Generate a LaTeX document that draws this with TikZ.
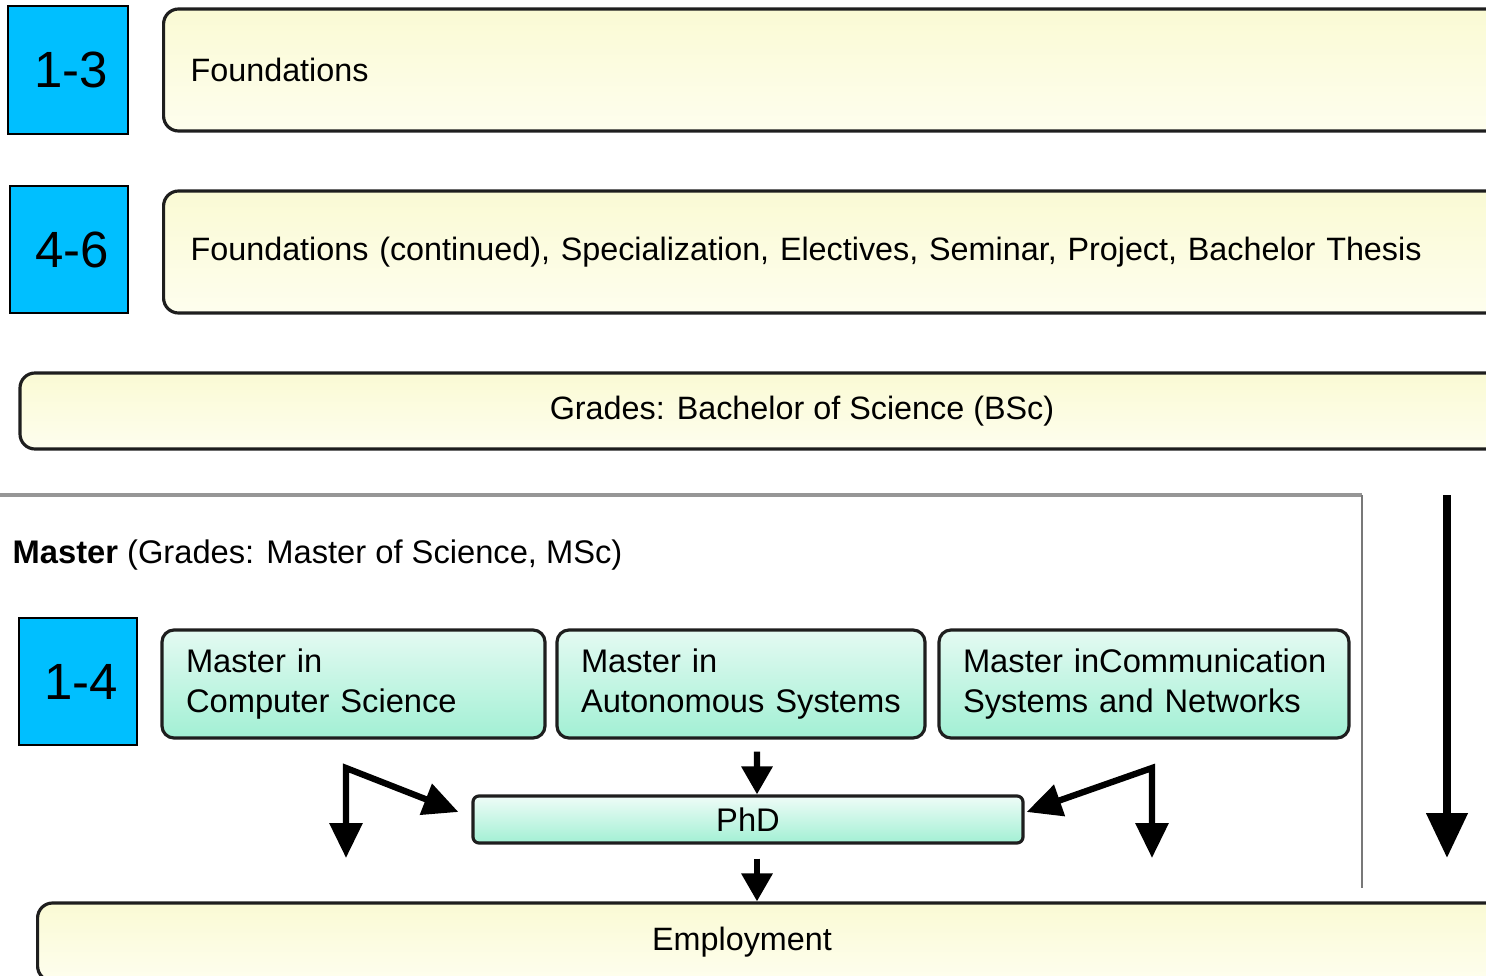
\documentclass[tikz,border=0pt]{standalone}
\usepackage{fontspec}
\setmainfont{Liberation Sans}
\usetikzlibrary{arrows.meta}

\definecolor{yearblue}{RGB}{0,191,255}
\definecolor{paleyellow}{RGB}{250,250,212}
\definecolor{creamwhite}{RGB}{254,254,238}
\definecolor{mintlight}{RGB}{228,250,242}
\definecolor{mintdark}{RGB}{162,240,212}
\definecolor{framegray}{RGB}{150,150,150}
\definecolor{edgeblack}{RGB}{30,30,30}

\begin{document}
\begin{tikzpicture}[
  yearbox/.style={draw=black, line width=0.7pt, fill=yearblue, inner sep=0pt,
    minimum width=1.18cm, minimum height=1.27cm, font=\fontsize{14.5}{16}\selectfont},
  phasebox/.style={draw=edgeblack, line width=0.9pt, rounded corners=1.5mm,
    top color=paleyellow, bottom color=creamwhite, inner sep=0pt,
    font=\fontsize{9.2}{11}\selectfont},
  masterbox/.style={draw=edgeblack, line width=0.9pt, rounded corners=1.2mm,
    top color=mintlight, bottom color=mintdark, minimum height=1.08cm,
    align=left, inner xsep=2.4mm, inner ysep=0pt, font=\fontsize{9.3}{11.6}\selectfont},
  flow/.style={line width=1.8pt, -{Triangle[width=3mm,length=2.8mm]}},
  twoway/.style={line width=1.8pt,
    {Triangle[width=3.2mm,length=3.5mm]}-{Triangle[width=3.2mm,length=3.5mm]}},
  bigflow/.style={line width=2.2pt, -{Triangle[width=4mm,length=4.5mm]}},
]
\path[use as bounding box, clip] (0,0) rectangle (14.86,-9.76);
% Bachelor years
\node[yearbox, minimum width=1.20cm, minimum height=1.28cm] (y13) at (0.68,-0.70) {\hspace{0.6mm}1-3};
\node[phasebox, anchor=west, minimum height=1.22cm, text width=13.14cm,
  align=left, inner xsep=2.7mm] (found) at (1.62,-0.70) {Foundations};
\node[yearbox] (y46) at (0.69,-2.495) {\hspace{0.6mm}4-6};
\node[phasebox, anchor=west, minimum height=1.22cm, text width=13.14cm,
  align=left, inner xsep=2.7mm] (spec) at (1.62,-2.52)
  {Foundations (continued), Specialization, Electives, Seminar, Project, Bachelor Thesis};
\node[phasebox, minimum width=15.64cm, minimum height=0.76cm] (bsc) at (8.02,-4.11)
  {Grades: Bachelor of Science (BSc)};
% Master frame
\draw[framegray, line width=0.9pt] (0,-4.95) -- (13.62,-4.95);
\draw[framegray!80!black, line width=0.5pt] (13.62,-4.95) -- (13.62,-8.88);
\node[anchor=west, inner sep=0pt, font=\fontsize{9.3}{11}\selectfont] (mastertitle)
  at (0.12,-5.55) {\textbf{Master} (Grades: Master of Science, MSc)};
\node[yearbox] (y14) at (0.78,-6.815) {\hspace{0.6mm}1-4};
\node[masterbox, text width=3.35cm] (mcs) at (3.535,-6.84) {Master in\\Computer Science};
\node[masterbox, text width=3.20cm] (mas) at (7.41,-6.84) {Master in\\Autonomous Systems};
\node[masterbox, text width=3.62cm] (mcsn) at (11.44,-6.84)
  {\mbox{Master inCommunication}\\Systems and Networks};
% PhD and employment
\node[masterbox, rounded corners=0.6mm, minimum width=5.50cm, minimum height=0.47cm,
  top color=mintlight!60!white, align=center, inner sep=0pt] (phd) at (7.48,-8.195) {PhD};
\node[phasebox, anchor=west, minimum width=15cm, minimum height=0.78cm] (employ)
  at (0.36,-9.42) {};
\node[font=\fontsize{9.2}{11}\selectfont] (employtext) at (7.42,-9.42) {Employment};
% Arrows
\coordinate (lknee) at (3.46,-7.68);
\coordinate (lfoot) at (3.46,-8.58);
\coordinate (rknee) at (11.52,-7.68);
\coordinate (rfoot) at (11.52,-8.58);
\draw[twoway] (lfoot) -- (lknee) -- ([xshift=-1.3mm,yshift=0.75mm]phd.west);
\draw[twoway] (rfoot) -- (rknee) -- ([xshift=0.2mm,yshift=0.75mm]phd.east);
\draw[flow] ([xshift=1.6mm,yshift=-1.2mm]mas.south) -- ([xshift=0.9mm]phd.north);
\draw[flow] ([xshift=0.9mm,yshift=-1.4mm]phd.south) -- ([xshift=0.9mm]phd.south |- employ.north);
\coordinate (ftop) at (14.47,-4.95);
\coordinate (fbot) at (14.47,-8.58);
\draw[bigflow] (ftop) -- (fbot);
\end{tikzpicture}
\end{document}
